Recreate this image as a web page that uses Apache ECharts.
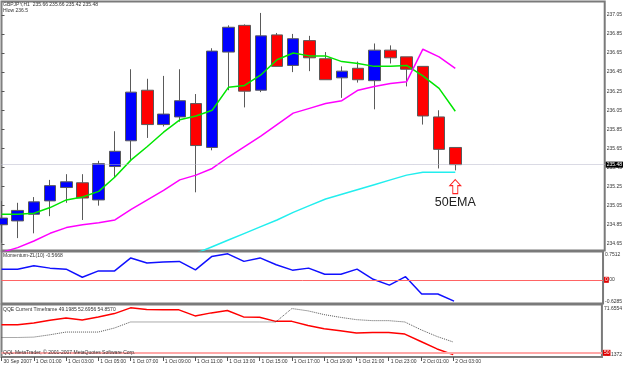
<!DOCTYPE html>
<html>
<head>
	<meta charset="utf-8">
	<title>GBPJPY,H1</title>
	<script src="https://cdn.jsdelivr.net/npm/echarts@6/dist/echarts.min.js"></script>
	<style type="text/css">
		html, body { margin: 0; padding: 0; background-color: #fff; }
		#chartBox { width: 625px; height: 367px; }
	</style>
</head>
<body>
<div id="chartBox"></div>

<script>
	// candles, hourly from 30 Sep 23:00
	var opens  = [234.85, 234.89, 234.96, 235.10, 235.24, 235.29, 235.11, 235.46, 235.73, 236.26, 235.90, 235.98, 236.12, 235.66, 236.66, 236.94, 236.26, 236.84, 236.52, 236.78, 236.59, 236.39, 236.49, 236.36, 236.68, 236.61, 236.51, 235.98, 235.66];
	var closes = [234.92, 235.00, 235.09, 235.26, 235.30, 235.13, 235.49, 235.62, 236.24, 235.90, 236.01, 236.15, 235.68, 236.67, 236.92, 236.25, 236.83, 236.51, 236.80, 236.60, 236.37, 236.46, 236.37, 236.68, 236.60, 236.48, 235.99, 235.64, 235.48];
	var lows   = [234.66, 234.71, 234.76, 234.94, 235.08, 234.90, 235.05, 235.34, 235.53, 235.76, 235.88, 235.93, 235.19, 235.63, 236.26, 236.08, 236.24, 236.51, 236.45, 236.46, 236.37, 236.18, 236.34, 236.06, 236.54, 236.30, 235.90, 235.44, 235.42];
	var highs  = [235.10, 235.08, 235.14, 235.32, 235.38, 235.38, 235.52, 235.83, 236.48, 236.38, 236.41, 236.48, 236.22, 236.70, 236.94, 236.95, 237.07, 236.86, 236.85, 236.83, 236.66, 236.51, 236.56, 236.75, 236.73, 236.61, 236.51, 236.05, 235.66];

	var greenLine   = [234.96, 234.96, 234.97, 235.03, 235.11, 235.14, 235.20, 235.35, 235.53, 235.67, 235.82, 235.95, 235.99, 236.05, 236.29, 236.31, 236.42, 236.58, 236.65, 236.62, 236.62, 236.56, 236.54, 236.51, 236.51, 236.52, 236.41, 236.28, 236.04];
	var magentaLine = [234.56, 234.61, 234.68, 234.76, 234.82, 234.85, 234.87, 234.90, 235.01, 235.11, 235.21, 235.32, 235.37, 235.44, 235.56, 235.67, 235.78, 235.90, 236.02, 236.07, 236.12, 236.15, 236.26, 236.30, 236.33, 236.35, 236.69, 236.61, 236.49];
	var ema50Line   = [null, null, null, null, null, null, null, null, null, null, null, null, 234.55, 234.62, 234.69, 234.76, 234.83, 234.90, 234.98, 235.05, 235.12, 235.17, 235.22, 235.27, 235.32, 235.37, 235.40, 235.40, 235.40];

	var momentum = [0.283, 0.283, 0.372, 0.310, 0.283, 0.067, 0.237, 0.237, 0.581, 0.446, 0.473, 0.489, 0.264, 0.616, 0.689, 0.489, 0.581, 0.400, 0.256, 0.310, 0.148, 0.148, 0.283, 0.013, -0.141, 0.083, -0.377, -0.377, -0.5668];

	var qqeRsi   = [62.61, 62.61, 63.38, 64.55, 65.64, 64.74, 66.09, 67.58, 70.16, 69.39, 69.26, 69.26, 66.54, 67.90, 68.94, 66.09, 65.91, 64.10, 64.10, 62.29, 60.80, 59.90, 58.86, 59.13, 59.13, 58.40, 55.06, 51.75, 49.20];
	var qqeTrail = [56.87, 56.87, 57.05, 58.09, 59.31, 59.31, 59.31, 61.12, 63.83, 63.83, 63.83, 63.83, 63.83, 63.83, 63.83, 63.83, 63.83, 63.83, 69.85, 68.81, 67.13, 65.91, 64.87, 64.42, 64.42, 63.83, 60.35, 57.32, 54.86];

	var timeLabels = ['30 Sep 2007', '1 Oct 01:00', '1 Oct 03:00', '1 Oct 05:00', '1 Oct 07:00', '1 Oct 09:00', '1 Oct 11:00', '1 Oct 13:00', '1 Oct 15:00', '1 Oct 17:00', '1 Oct 19:00', '1 Oct 21:00', '1 Oct 23:00', '2 Oct 01:00', '2 Oct 03:00'];
	var priceTicks = [234.65, 234.85, 235.05, 235.25, 235.45, 235.65, 235.85, 236.05, 236.25, 236.45, 236.65, 236.85, 237.05];
	var momTicks = [-0.6285, 0, 0.7512];
	var qqeTicks = [48.1372, 71.6554];
	var qqeLevel = 50;
	var lastPrice = 235.48;
	var arrowAt = [28, 235.25];

	var txt = { fontSize: 5, color: '#333', fontFamily: 'Liberation Sans' };
	var xMax = 37.22;

	function xy(arr) {
		var out = [];
		arr.forEach(function (v, i) { if (v !== null) out.push([i, v]); });
		return out;
	}
	var candles = opens.map(function (o, i) { return [i, o, closes[i], lows[i], highs[i]]; });
	var tickIdx = timeLabels.map(function (t, k) { return k * 2; });

	function hiddenX(g) {
		return { type: 'value', gridIndex: g, min: 0, max: xMax, show: false };
	}
	function gridBox(top, h) {
		return { left: 1.5, right: 19, top: top, height: h, show: true, borderColor: '#7a7a7a', borderWidth: 2, backgroundColor: '#fff' };
	}

	var chart = echarts.init(document.getElementById('chartBox'));
	var options = {
		animation: false,
		title: [
			{ text: 'GBPJPY,H1  235.66 235.66 235.42 235.48', left: 3, top: 2.5, padding: 0, textStyle: Object.assign({ fontWeight: 'normal' }, txt) },
			{ text: 'Hlow 236.5', left: 3, top: 8.5, padding: 0, textStyle: Object.assign({ fontWeight: 'normal' }, txt) },
			{ text: 'Momentum-ZL(10) -0.5668', left: 3, top: 253.5, padding: 0, textStyle: Object.assign({ fontWeight: 'normal' }, txt) },
			{ text: 'QQE Current Timeframe 49.1985 52.6956 54.8570', left: 3, top: 307.5, padding: 0, textStyle: Object.assign({ fontWeight: 'normal' }, txt) },
			{ text: 'QQL MetaTrader, \u00a9 2001-2007 MetaQuotes Software Corp.', left: 3, top: 350, padding: 0, textStyle: Object.assign({ fontWeight: 'normal' }, txt) }
		],
		grid: [gridBox(1.5, 249), gridBox(251.5, 52), gridBox(304.5, 52.5)],
		xAxis: [
			hiddenX(0),
			hiddenX(1),
			{
				type: 'value', gridIndex: 2, min: 0, max: xMax,
				splitLine: { show: false },
				axisLine: { show: true, lineStyle: { color: '#808080' } },
				axisTick: { show: true, customValues: tickIdx, length: 4, lineStyle: { color: '#555' } },
				axisLabel: Object.assign({
					customValues: tickIdx, align: 'left', margin: 2, padding: [0, 0, 0, 2],
					formatter: function (v) { return timeLabels[Math.round(v / 2)] || ''; }
				}, txt)
			}
		],
		yAxis: [
			{
				type: 'value', gridIndex: 0, position: 'right', min: 234.58, max: 237.19, scale: true,
				splitLine: { show: false },
				axisLine: { show: true, lineStyle: { color: '#808080' } },
				axisTick: { show: true, customValues: priceTicks, length: 3, lineStyle: { color: '#555' } },
				axisLabel: Object.assign({ customValues: priceTicks, margin: 2, formatter: function (v) { return v.toFixed(2); } }, txt)
			},
			{
				type: 'value', gridIndex: 1, position: 'right', min: -0.6285, max: 0.7512,
				splitLine: { show: false },
				axisLine: { show: true, lineStyle: { color: '#808080' } },
				axisTick: { show: false },
				axisLabel: Object.assign({
					customValues: momTicks, margin: 2,
					formatter: function (v) {
						if (v > 0) return '{t|' + v + '}';
						if (v < 0) return '{b|' + v + '}';
						return '0.00';
					},
					rich: { t: Object.assign({ padding: [6, 0, 0, 0] }, txt), b: Object.assign({ padding: [0, 0, 4, 0] }, txt) }
				}, txt)
			},
			{
				type: 'value', gridIndex: 2, position: 'right', min: 48.1372, max: 71.6554,
				splitLine: { show: false },
				axisLine: { show: true, lineStyle: { color: '#808080' } },
				axisTick: { show: false },
				axisLabel: Object.assign({
					customValues: qqeTicks, margin: 2,
					formatter: function (v) {
						return v > 60 ? '{t|' + v + '}' : '{b|' + v + '}';
					},
					rich: { t: Object.assign({ padding: [8, 0, 0, 0] }, txt), b: Object.assign({ padding: [0, 0, 4, 0] }, txt) }
				}, txt)
			}
		],
		series: [
			{
				type: 'candlestick', xAxisIndex: 0, yAxisIndex: 0,
				data: candles,
				encode: { x: 0, y: [1, 2, 3, 4] },
				barWidth: 12,
				itemStyle: { color: '#0000ff', color0: '#ff0000', borderColor: '#5a5a5a', borderColor0: '#5a5a5a', borderWidth: 1 },
				markLine: {
					silent: true, symbol: 'none',
					lineStyle: { type: 'dotted', color: '#b4b4c8', width: 1 },
					label: { position: 'end', distance: 1, formatter: '235.48', backgroundColor: '#000', color: '#fff', fontSize: 5, padding: [1, 1, 0, 1], fontFamily: 'Liberation Sans' },
					data: [{ yAxis: lastPrice }]
				}
			},
			{
				type: 'line', xAxisIndex: 0, yAxisIndex: 0, data: xy(greenLine),
				showSymbol: false, lineStyle: { color: '#00e600', width: 1.5 }
			},
			{
				type: 'line', xAxisIndex: 0, yAxisIndex: 0, data: xy(magentaLine),
				showSymbol: false, lineStyle: { color: '#ff00ff', width: 1.5 }
			},
			{
				type: 'line', xAxisIndex: 0, yAxisIndex: 0, data: xy(ema50Line),
				showSymbol: false, lineStyle: { color: '#22eeee', width: 1.5 },
				markPoint: {
					silent: true,
					data: [{
						coord: arrowAt,
						symbol: 'path://M5.5,0 L11,6 L8,6 L8,14 L3,14 L3,6 L0,6 Z',
						symbolSize: [11, 14],
						itemStyle: { color: '#fff', borderColor: '#ff2020', borderWidth: 1 },
						label: { show: true, position: 'bottom', distance: 2, formatter: '50EMA', fontSize: 12.5, color: '#222', fontFamily: 'Liberation Sans' }
					}]
				}
			},
			{
				type: 'line', xAxisIndex: 1, yAxisIndex: 1, data: xy(momentum),
				showSymbol: false, lineStyle: { color: '#1010ff', width: 1.5 },
				markLine: {
					silent: true, symbol: 'none',
					lineStyle: { type: 'solid', color: '#ff6464', width: 1 },
					label: { position: 'end', distance: 1, formatter: '0', backgroundColor: '#e00000', color: '#fff', fontSize: 5, padding: [1, 1, 0, 1] },
					data: [{ yAxis: 0 }]
				}
			},
			{
				type: 'line', xAxisIndex: 2, yAxisIndex: 2, data: xy(qqeRsi),
				showSymbol: false, lineStyle: { color: '#ff0000', width: 1.5 },
				markLine: {
					silent: true, symbol: 'none',
					lineStyle: { type: 'solid', color: '#ffa8a8', width: 2 },
					label: { position: 'end', distance: 1, formatter: '50', backgroundColor: '#e00000', color: '#fff', fontSize: 5, padding: [1, 1, 0, 1] },
					data: [{ yAxis: qqeLevel }]
				}
			},
			{
				type: 'line', xAxisIndex: 2, yAxisIndex: 2, data: xy(qqeTrail),
				showSymbol: false, lineStyle: { color: '#555', width: 1, type: 'dotted' }
			}
		]
	};
	chart.setOption(options);
</script>
</body>
</html>
